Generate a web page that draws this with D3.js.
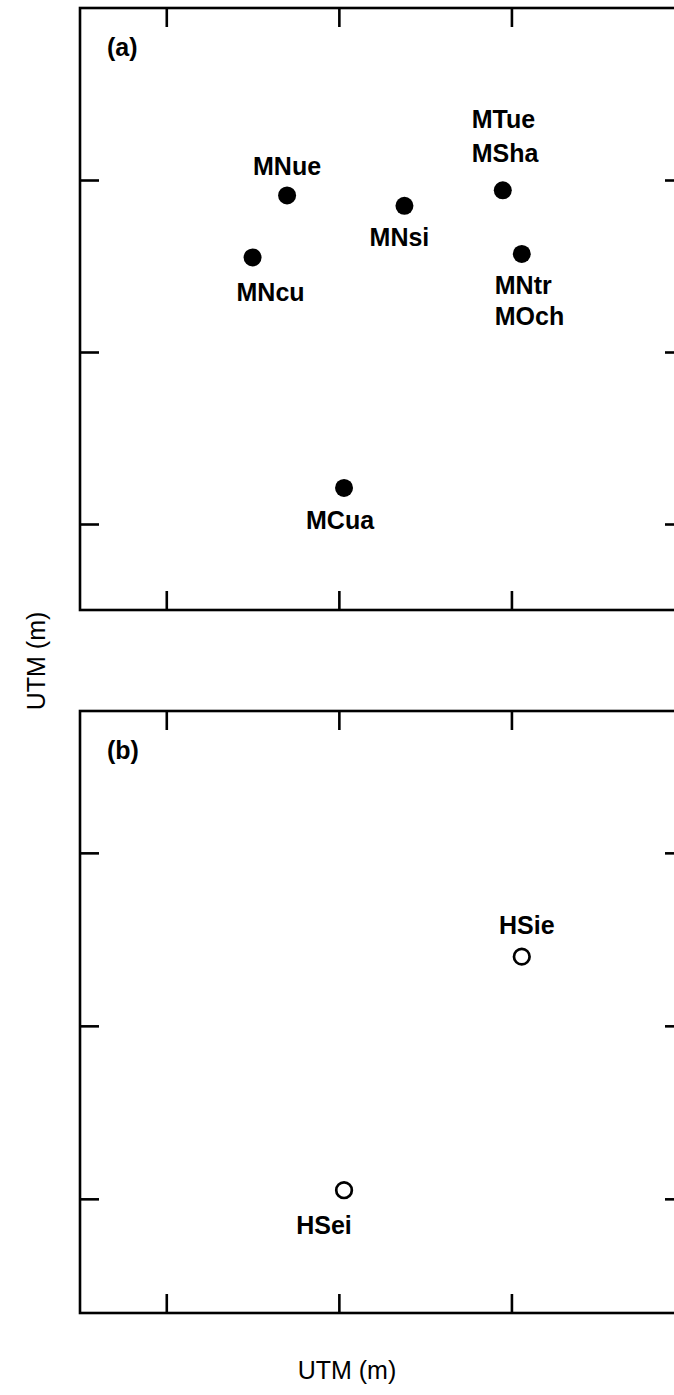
<!DOCTYPE html>
<html>
<head>
<meta charset="utf-8">
<script src="https://cdn.jsdelivr.net/npm/d3@7"></script>
<style>
  html, body { margin: 0; padding: 0; background: #fff; }
  svg { display: block; }
  text { font-family: "Liberation Sans", Arial, Helvetica, sans-serif; fill: #000; }
</style>
</head>
<body>
<svg id="chart" width="674" height="1395"></svg>
<script>
// Station coordinates (relative UTM units, km) for panel (a): filled sites
const siteNamesA = [["MNue"], ["MNcu"], ["MNsi"], ["MTue", "MSha"], ["MNtr", "MOch"], ["MCua"]];
const eastingA   = [1.20, 1.00, 1.88, 2.45, 2.56, 1.53];
const northingA  = [2.41, 2.05, 2.35, 2.44, 2.07, 0.71];

// Panel (b): open sites
const siteNamesB = [["HSie"], ["HSei"]];
const eastingB   = [2.56, 1.53];
const northingB  = [1.90, 0.55];

// Axis extents and (unlabelled) tick positions
const xDomain  = [0, 3.5];
const yDomainA = [0, 3.5];
const yDomainB = [-0.16, 3.32];
const xTicks = [0.5, 1.5, 2.5];
const yTicks = [0.5, 1.5, 2.5];

const panelLabels = ["(a)", "(b)"];
const axisTitle = "UTM (m)";

// Label placement per site: [dx, dy of first line, anchor]
const labelPosA = [[0, -20, "middle"], [18, 44, "middle"], [-5, 40, "middle"],
                   [-31, -62, "start"], [-27, 40, "start"], [-4, 41, "middle"]];
const labelPosB = [[5, -23, "middle"], [-20, 44, "middle"]];

const svg = d3.select("#chart");
const left = 80, right = 684, width = right - left;
const lineGap = 34;
const tickLen = 19;

const x = d3.scaleLinear().domain(xDomain).range([left, right]);

function drawPanel(top, bottom, yDomain, names, ex, no, pos, filled, tag) {
  const y = d3.scaleLinear().domain(yDomain).range([bottom, top]);
  const g = svg.append("g");

  // Ticks on all four sides, pointing inward
  g.append("g").attr("transform", `translate(0,${top})`)
    .call(d3.axisBottom(x).tickValues(xTicks).tickSize(tickLen).tickFormat(""));
  g.append("g").attr("transform", `translate(0,${bottom})`)
    .call(d3.axisTop(x).tickValues(xTicks).tickSize(tickLen).tickFormat(""));
  g.append("g").attr("transform", `translate(${left},0)`)
    .call(d3.axisRight(y).tickValues(yTicks).tickSize(tickLen).tickFormat(""));
  g.append("g").attr("transform", `translate(${right},0)`)
    .call(d3.axisLeft(y).tickValues(yTicks).tickSize(tickLen).tickFormat(""));
  g.selectAll(".domain").remove();
  g.selectAll(".tick line").attr("stroke", "#000").attr("stroke-width", 2.6);

  // Frame
  g.append("rect")
    .attr("x", left).attr("y", top)
    .attr("width", width).attr("height", bottom - top)
    .attr("fill", "none").attr("stroke", "#000").attr("stroke-width", 2.6);

  // Panel tag
  g.append("text").attr("x", left + 27).attr("y", top + 48)
    .attr("font-size", 25).attr("font-weight", "bold").text(tag);

  const data = names.map((n, i) => ({ names: n, e: ex[i], n: no[i], p: pos[i] }));

  g.selectAll("circle.site").data(data).join("circle")
    .attr("class", "site")
    .attr("cx", d => x(d.e)).attr("cy", d => y(d.n))
    .attr("r", filled ? 9 : 7.8)
    .attr("fill", filled ? "#000" : "#fff")
    .attr("stroke", "#000").attr("stroke-width", filled ? 0 : 2.7);

  data.forEach(d => {
    d.names.forEach((nm, j) => {
      g.append("text")
        .attr("x", x(d.e) + d.p[0])
        .attr("y", y(d.n) + d.p[1] + j * (d.p[1] < 0 ? lineGap : 31))
        .attr("text-anchor", d.p[2])
        .attr("font-size", 25).attr("font-weight", "bold")
        .text(nm);
    });
  });
}

drawPanel(8, 610, yDomainA, siteNamesA, eastingA, northingA, labelPosA, true, panelLabels[0]);
drawPanel(711, 1313, yDomainB, siteNamesB, eastingB, northingB, labelPosB, false, panelLabels[1]);

// Shared axis titles
svg.append("text").attr("x", 347).attr("y", 1379)
  .attr("text-anchor", "middle").attr("font-size", 25).text(axisTitle);
svg.append("text")
  .attr("transform", "translate(45,661) rotate(-90)")
  .attr("text-anchor", "middle").attr("font-size", 25).text(axisTitle);
</script>
</body>
</html>
